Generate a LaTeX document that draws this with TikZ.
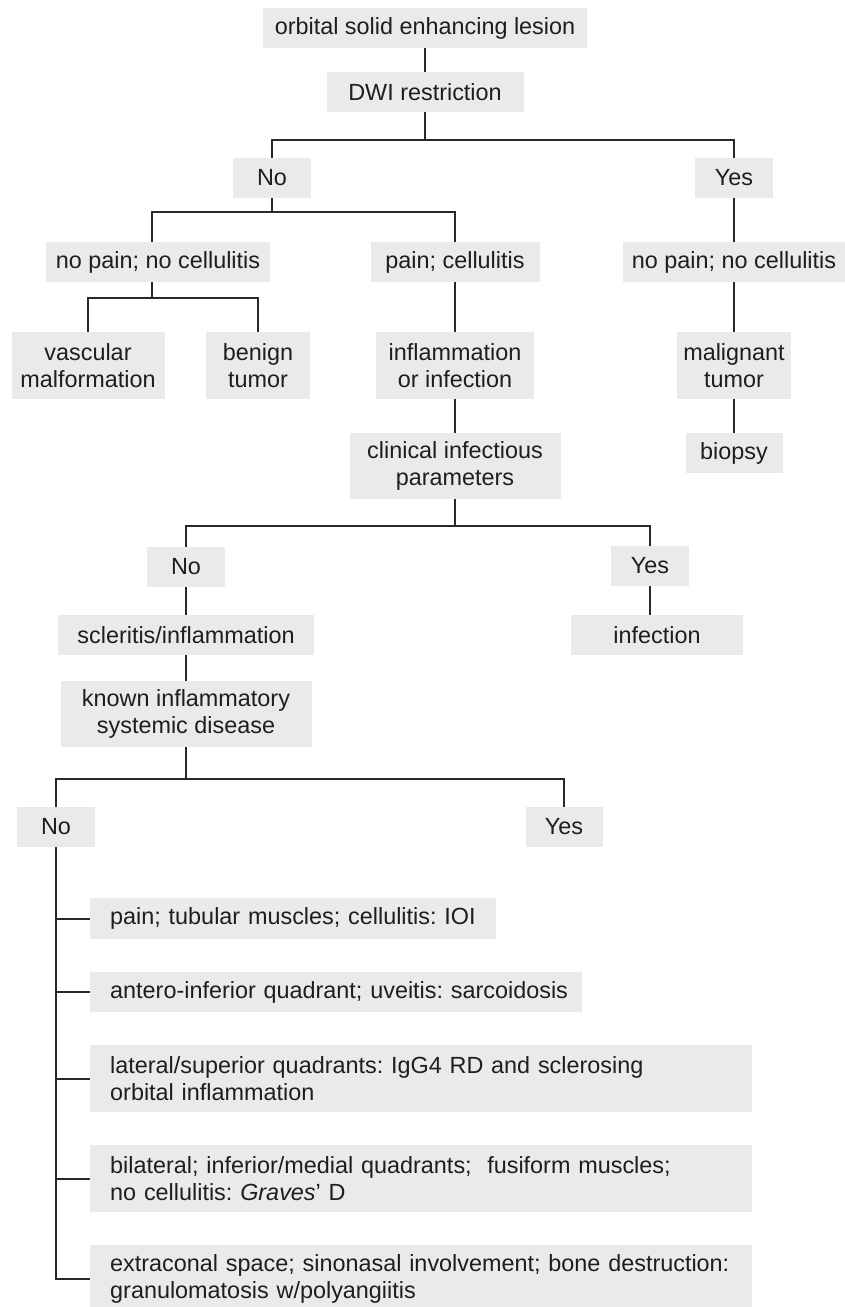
\documentclass[tikz,border=0pt]{standalone}
\usepackage{fontspec}
\setmainfont{Liberation Sans}
\definecolor{boxgray}{RGB}{234,234,234}
\definecolor{lncol}{RGB}{40,40,40}
\definecolor{txt}{RGB}{30,30,30}
\frenchspacing
\begin{document}
\begin{tikzpicture}[x=1pt,y=-1pt,
  box/.style={fill=boxgray, inner sep=0pt, align=center, text=txt,
    font=\fontsize{23.4}{27}\selectfont},
  wbox/.style={box, anchor=west, align=left, text width=662pt, minimum height=67pt},
  ln/.style={draw=lncol, line width=2pt}]
\clip (0,0) rectangle (845,1307);
% top part
\node[box, minimum width=324pt, minimum height=40pt] (top) at (425,28) {orbital solid enhancing lesion};
\node[box, minimum width=197pt, minimum height=40pt] (dwi) at (425,92) {DWI restriction};
\node[box, minimum width=78pt, minimum height=40pt] (no1) at (272,178) {No};
\node[box, minimum width=78pt, minimum height=40pt] (yes1) at (734,178) {Yes};
\node[box, minimum width=224pt, minimum height=40pt] (npl) at (158,262) {no pain; no cellulitis};
\node[box, minimum width=169pt, minimum height=40pt] (pc) at (455,262) {pain; cellulitis};
\node[box, minimum width=223pt, minimum height=40pt] (npr) at (734,262) {no pain; no cellulitis};
\node[box, minimum width=153pt, minimum height=67pt] (vm) at (88,365.5) {vascular\\malformation};
\node[box, minimum width=104pt, minimum height=67pt] (bt) at (258,365.5) {benign\\tumor};
\node[box, minimum width=158pt, minimum height=67pt] (ii) at (455,365.5) {inflammation\\or infection};
\node[box, minimum width=114pt, minimum height=67pt] (mt) at (734,365.5) {malignant\\tumor};
\node[box, minimum width=97pt, minimum height=40pt] (bio) at (734,453) {biopsy};
\node[box, minimum width=211pt, minimum height=66pt] (cip) at (455,466) {clinical infectious\\parameters};
\node[box, minimum width=78pt, minimum height=40pt] (no2) at (186,567) {No};
\node[box, minimum width=78pt, minimum height=40pt] (yes2) at (650,566) {Yes};
\node[box, minimum width=256pt, minimum height=40pt] (si) at (186,635) {scleritis/inflammation};
\node[box, minimum width=172pt, minimum height=40pt] (inf) at (657,635) {infection};
\node[box, minimum width=251pt, minimum height=66pt] (kis) at (186,714) {known inflammatory\\systemic disease};
\node[box, minimum width=78pt, minimum height=40pt] (no3) at (56,827) {No};
\node[box, minimum width=77pt, minimum height=40pt] (yes3) at (564,827) {Yes};
% bottom list
\node[box, anchor=west, align=left, text width=406pt, minimum height=41pt] (r1) at (90,918.5) {\hspace*{20pt}pain; tubular muscles; cellulitis: IOI};
\node[box, anchor=west, align=left, text width=492pt, minimum height=40pt] (r2) at (90,992) {\hspace*{20pt}antero-inferior quadrant; uveitis: sarcoidosis};
\node[wbox] (r3) at (90,1078.5) {\hspace*{20pt}lateral/superior quadrants: IgG4 RD and sclerosing\\\hspace*{20pt}orbital inflammation};
\node[wbox] (r4) at (90,1178.5) {\hspace*{20pt}bilateral; inferior/medial quadrants;\ \ fusiform muscles;\\\hspace*{20pt}no cellulitis: \textit{Graves}' D};
\node[wbox] (r5) at (90,1278.5) {\hspace*{20pt}extraconal space; sinonasal involvement; bone destruction:\\\hspace*{20pt}granulomatosis w/polyangiitis};
% junction coordinates
\coordinate (b1) at (425,140);
\coordinate (b2) at (272,212);
\coordinate (b3) at (152,298);
\coordinate (b4) at (455,526);
\coordinate (b5) at (186,779);
\coordinate (t) at (56,1278.5);
% connectors
\draw[ln] (top) -- (dwi);
\draw[ln] (dwi) -- (b1);
\draw[ln] (no1) |- (b1) -| (yes1);
\draw[ln] (no1) -- (b2);
\draw[ln] (b3 |- npl.north) |- (b2) -| (pc);
\draw[ln] (b3 |- npl.south) -- (b3);
\draw[ln] (vm) |- (b3) -| (bt);
\draw[ln] (yes1) -- (npr);
\draw[ln] (npr) -- (mt);
\draw[ln] (mt) -- (bio);
\draw[ln] (pc) -- (ii);
\draw[ln] (ii) -- (cip);
\draw[ln] (cip) -- (b4);
\draw[ln] (no2) |- (b4) -| (yes2);
\draw[ln] (no2) -- (si);
\draw[ln] (yes2) -- (yes2 |- inf.north);
\draw[ln] (si) -- (kis);
\draw[ln] (kis) -- (b5);
\draw[ln] (no3) |- (b5) -| (yes3);
\draw[ln] (no3.south) -- (t) -- (r5.west);
\draw[ln] (t |- r1.west) -- (r1.west);
\draw[ln] (t |- r2.west) -- (r2.west);
\draw[ln] (t |- r3.west) -- (r3.west);
\draw[ln] (t |- r4.west) -- (r4.west);
\end{tikzpicture}
\end{document}
